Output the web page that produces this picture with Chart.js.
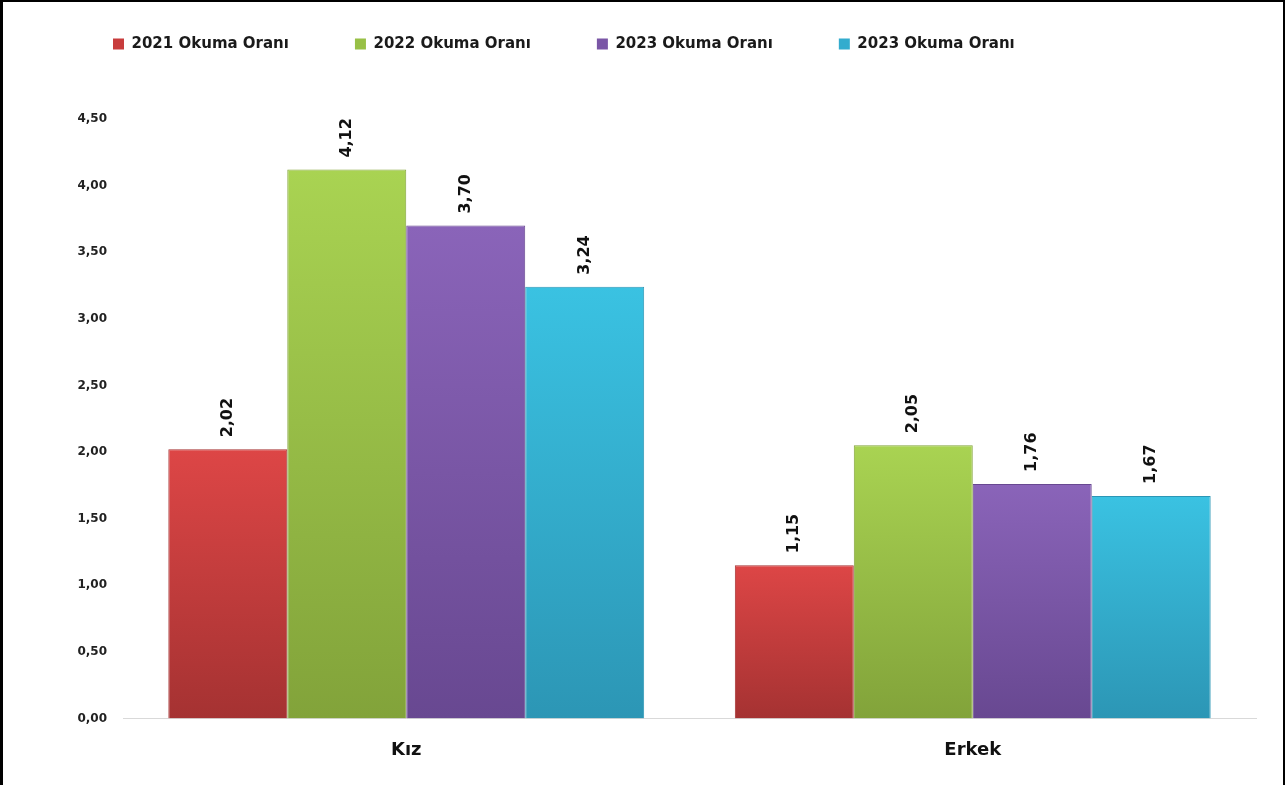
<!DOCTYPE html>
<html>
<head>
<meta charset="utf-8">
<script src="https://cdn.jsdelivr.net/npm/chart.js@4.4.1/dist/chart.umd.min.js"></script>
<style>
  html, body { margin: 0; padding: 0; background: #fff; }
  #wrap { position: relative; width: 1285px; height: 785px; overflow: hidden; }
  #frame { position: absolute; left: 0; top: 0; width: 1285px; height: 800px;
           border-left: 3px solid #000; border-top: 2px solid #000; border-right: 2px solid #000;
           pointer-events: none; box-sizing: border-box; }
</style>
</head>
<body>
<div id="wrap">
  <canvas id="c" width="1285" height="785"></canvas>
  <div id="frame"></div>
</div>
<script>
const categories = ["Kız", "Erkek"];
const seriesLabels = ["2021 Okuma Oranı", "2022 Okuma Oranı", "2023 Okuma Oranı", "2023 Okuma Oranı"];
const values2021 = [2.02, 1.15];
const values2022 = [4.12, 2.05];
const values2023a = [3.70, 1.76];
const values2023b = [3.24, 1.67];
const yTicks = [0, 0.5, 1, 1.5, 2, 2.5, 3, 3.5, 4, 4.5];

const topColors = ["#dd4646", "#a9d352", "#8a64b9", "#3ac2e2"];
const bottomColors = ["#a53232", "#82a33a", "#684891", "#2c96b5"];
const legendColors = ["#c83c3c", "#98c046", "#7a56a6", "#33acce"];
const seriesValues = [values2021, values2022, values2023a, values2023b];

const FONT = "'DejaVu Sans', Verdana, sans-serif";
const fmt = v => v.toFixed(2).replace('.', ',');

function gradientFor(i) {
  return function (ctx) {
    const chart = ctx.chart;
    const ca = chart.chartArea;
    if (!ca || ctx.type !== 'data') return topColors[i];
    const yScale = chart.scales.y;
    const top = yScale.getPixelForValue(ctx.raw);
    const g = chart.ctx.createLinearGradient(0, top, 0, ca.bottom);
    g.addColorStop(0, topColors[i]);
    g.addColorStop(1, bottomColors[i]);
    return g;
  };
}

const datasets = seriesValues.map((vals, i) => ({
  label: seriesLabels[i],
  data: vals,
  backgroundColor: gradientFor(i),
  borderColor: bottomColors[i],
  borderWidth: 1,
  categoryPercentage: 0.84,
  barPercentage: 1.0
}));

const barLabels = {
  id: 'barLabels',
  afterDatasetsDraw(chart) {
    const ctx = chart.ctx;
    ctx.save();
    ctx.font = "bold 16px " + FONT;
    ctx.fillStyle = "#111";
    chart.data.datasets.forEach((ds, di) => {
      const meta = chart.getDatasetMeta(di);
      meta.data.forEach((bar, j) => {
        ctx.save();
        ctx.translate(bar.x, bar.y - 12);
        ctx.rotate(-Math.PI / 2);
        ctx.textAlign = 'left';
        ctx.textBaseline = 'middle';
        ctx.fillText(fmt(ds.data[j]), 0, 0);
        ctx.restore();
      });
    });
    ctx.restore();
  }
};

const legendShift = {
  id: 'legendShift',
  afterLayout(chart) {
    const lg = chart.legend;
    if (lg) {
      const h = lg.height;
      lg.top = -29.5;
      lg.bottom = lg.top + h;
    }
  }
};

new Chart(document.getElementById('c'), {
  type: 'bar',
  data: { labels: categories, datasets: datasets },
  plugins: [barLabels, legendShift],
  options: {
    responsive: false,
    animation: false,
    layout: { padding: { left: 47, right: 29, top: 28, bottom: 3 } },
    plugins: {
      tooltip: { enabled: false },
      legend: {
        position: 'top',
        align: 'start',
        maxHeight: 117,
        labels: {
          boxWidth: 11,
          boxHeight: 11,
          padding: 66,
          color: '#1a1a1a',
          font: { family: FONT, size: 15, weight: 'bold' },
          generateLabels(chart) {
            return chart.data.datasets.map((ds, i) => ({
              text: ds.label,
              fillStyle: legendColors[i],
              strokeStyle: legendColors[i],
              lineWidth: 0,
              hidden: false,
              datasetIndex: i,
              fontColor: '#1a1a1a'
            }));
          }
        }
      }
    },
    scales: {
      x: {
        grid: { display: false, drawTicks: false },
        border: { display: true, color: '#d9d9d9', width: 1 },
        ticks: {
          color: '#111',
          padding: 21,
          font: { family: FONT, size: 18, weight: 'bold' }
        }
      },
      y: {
        min: 0,
        max: 4.5,
        afterBuildTicks(scale) { scale.ticks = yTicks.map(v => ({ value: v })); },
        afterFit(scale) { scale.width = 76; },
        grid: { display: false, drawTicks: false },
        border: { display: false },
        ticks: {
          color: '#222',
          padding: 16,
          font: { family: FONT, size: 12, weight: 'bold' },
          callback: v => fmt(v)
        }
      }
    }
  }
});
</script>
</body>
</html>
